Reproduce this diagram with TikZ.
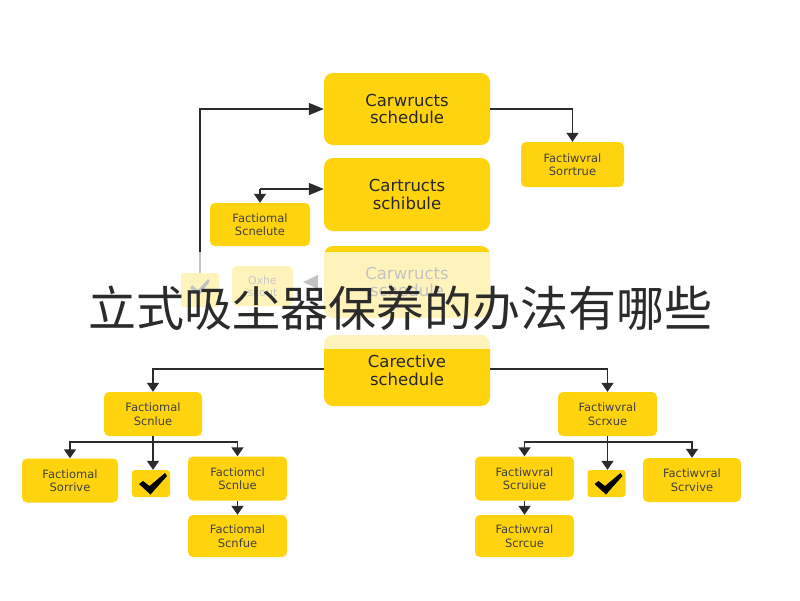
\documentclass[tikz,border=0pt]{standalone}
\usepackage{fontspec}
\setmainfont{DejaVu Sans}
\newfontfamily\cjk{Noto Sans CJK SC}
\usetikzlibrary{arrows.meta}
\definecolor{boxy}{HTML}{FFD40F}
\definecolor{inky}{HTML}{2B2B2B}
\tikzset{
  big/.style={fill=boxy,rounded corners=9pt,minimum width=166pt,minimum height=72pt,inner sep=0pt,align=center,text=black!85,font=\fontsize{16.5}{17.5}\selectfont},
  small/.style={fill=boxy,rounded corners=5pt,minimum width=98pt,minimum height=44pt,inner sep=0pt,align=center,text=black!75,font=\fontsize{11.5}{13.5}\selectfont},
  tick/.style={fill=boxy,rounded corners=3pt,minimum width=38pt,minimum height=27pt,inner sep=0pt},
  link/.style={draw=inky,line width=1.5pt,-{Triangle[length=9pt,width=12pt]}},
  bigarrow/.style={draw=inky,line width=1.5pt,-{Triangle[length=15pt,width=12pt]}},
  plain/.style={draw=inky,line width=1.5pt}
}
\begin{document}
\begin{tikzpicture}[x=1pt,y=-1pt]
\useasboundingbox (0,0) rectangle (800,600);
\fill[white] (0,0) rectangle (800,600);
% main boxes
\node[big] (b1) at (407,109) {Carwructs\\schedule};
\node[big,minimum height=73pt] (b2) at (407,194.5) {Cartructs\\schibule};
\node[big] (b3) at (407,282) {Carwructs\\schedule};
\node[big,minimum height=71pt] (b4) at (407,370.5) {Carective\\schedule};
% upper small boxes
\node[small,minimum width=103pt,minimum height=45pt] (r1) at (572.5,164.5) {Factiwvral\\Sorrtrue};
\node[small,minimum width=100pt,minimum height=43pt] (l2) at (260,224.5) {Factiomal\\Scnelute};
% faded boxes behind the band
\node[tick,minimum height=34pt] (f1) at (200,290) {};
\node[small,minimum width=61pt,minimum height=40pt,font=\fontsize{11}{12}\selectfont] (f2) at (262.5,286) {Oxhe\\scout};
\fill[inky] (192,285) -- (198,290) -- (208,279) -- (210,281) -- (199,296) -- (190,288) -- cycle;
\fill[inky] (303,282) -- (318,275) -- (318,289) -- cycle;
% left tree
\node[small] (lt) at (153,414) {Factiomal\\Scnlue};
\node[small,minimum width=96pt] (lc1) at (70,480.5) {Factiomal\\Sorrive};
\node[tick] (lc2) at (151,483.5) {};
\node[small,minimum width=99pt] (lc3) at (237.5,478.5) {Factiomcl\\Scnlue};
\node[small,minimum width=99pt,minimum height=42pt] (lc4) at (237.5,536) {Factiomal\\Scnfue};
% right tree
\node[small,minimum width=99pt] (rt) at (607.5,414) {Factiwvral\\Scrxue};
\node[small,minimum width=99pt] (rc1) at (524.5,478.5) {Factiwvral\\Scruiue};
\node[tick] (rc2) at (606.5,483.5) {};
\node[small] (rc3) at (692,480) {Factiwvral\\Scrvive};
\node[small,minimum width=99pt,minimum height=42pt] (rc4) at (524.5,536) {Factiwvral\\Scrcue};
% check marks
\fill[black] (139,484) -- (143,481) -- (149.5,486) -- (165,473) -- (167,476) -- (150.5,494.5) -- cycle;
\fill[black] (594.5,484) -- (598.5,481) -- (605,486) -- (620.5,473) -- (622.5,476) -- (606,494.5) -- cycle;
% junctions
\coordinate (up) at (200,109);
\coordinate (j2) at (260,189);
\coordinate (t1) at (572.5,109);
\coordinate (a1) at (153,369);
\coordinate (a2) at (607.5,369);
\coordinate (lj) at (153,442);
\coordinate (rj) at (607.5,442);
% connectors
\draw[bigarrow] (f1.north) -- (up) -- (b1.west);
\draw[link] (b1.east) -- (t1) -- (r1.north);
\draw[bigarrow] (j2) -- (b2.west |- j2);
\draw[link] (j2) -- (l2.north);
\draw[link] (b4.west |- a1) -- (a1) -- (lt.north);
\draw[link] (b4.east |- a2) -- (a2) -- (rt.north);
\draw[plain] (lt.south) -- (lj);
\draw[plain] (rt.south) -- (rj);
\draw[link] (lj) -| (lc1.north);
\draw[link] (lj) -- (lc2.north -| lj);
\draw[link] (lj) -| (lc3.north);
\draw[link] (lc3.south) -- (lc4.north);
\draw[link] (rj) -| (rc1.north);
\draw[link] (rj) -- (rc2.north -| rj);
\draw[link] (rj) -| (rc3.north);
\draw[link] (rc1.south) -- (rc4.north);
% translucent band and title
\fill[white,fill opacity=0.72] (0,252) rectangle (800,349);
\node[text=inky,inner sep=0pt] (title) at (400,308) {\cjk\fontsize{48}{48}\selectfont 立式吸尘器保养的办法有哪些};
\end{tikzpicture}
\end{document}
